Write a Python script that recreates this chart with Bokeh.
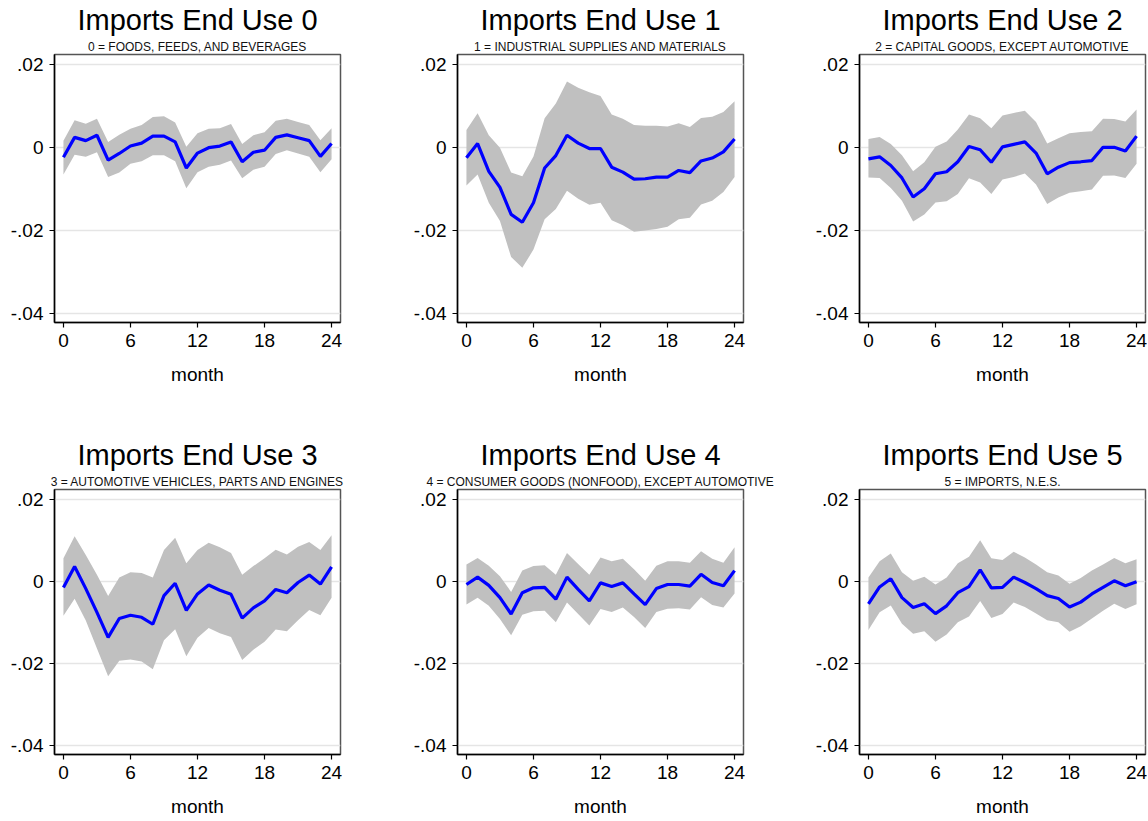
from bokeh.plotting import figure
from bokeh.layouts import row, column
from bokeh.models import Title, FixedTicker, Range1d
from bokeh.embed import file_html
from bokeh.resources import INLINE

months = list(range(25))

titles = ["Imports End Use 0", "Imports End Use 1", "Imports End Use 2",
          "Imports End Use 3", "Imports End Use 4", "Imports End Use 5"]
subtitles = ["0 = FOODS, FEEDS, AND BEVERAGES",
             "1 = INDUSTRIAL SUPPLIES AND MATERIALS",
             "2 = CAPITAL GOODS, EXCEPT AUTOMOTIVE",
             "3 = AUTOMOTIVE VEHICLES, PARTS AND ENGINES",
             "4 = CONSUMER GOODS (NONFOOD), EXCEPT AUTOMOTIVE",
             "5 = IMPORTS, N.E.S."]

y_ticks = [-0.04, -0.02, 0, 0.02]
y_tick_labels = ["-.04", "-.02", "0", ".02"]
x_ticks = [0, 6, 12, 18, 24]

# end use 0
coef0 = [-0.0023, 0.0025, 0.0017, 0.0030, -0.0030, -0.0014, 0.0004, 0.0011, 0.0028, 0.0028,
         0.0014, -0.0049, -0.0013, 0.0000, 0.0004, 0.0014, -0.0034, -0.0011, -0.0006, 0.0025,
         0.0031, 0.0024, 0.0017, -0.0021, 0.0010]
hi0 = [0.0017, 0.0066, 0.0058, 0.0070, 0.0014, 0.0031, 0.0046, 0.0055, 0.0074, 0.0076,
       0.0061, 0.0002, 0.0035, 0.0046, 0.0047, 0.0057, 0.0009, 0.0030, 0.0037, 0.0065,
       0.0070, 0.0062, 0.0055, 0.0018, 0.0047]
lo0 = [-0.0065, -0.0017, -0.0022, -0.0011, -0.0071, -0.0060, -0.0039, -0.0033, -0.0018, -0.0018,
       -0.0033, -0.0098, -0.0059, -0.0046, -0.0041, -0.0031, -0.0074, -0.0053, -0.0046, -0.0015,
       -0.0006, -0.0014, -0.0022, -0.0059, -0.0028]

# end use 1
coef1 = [-0.0024, 0.0010, -0.0057, -0.0096, -0.0161, -0.0180, -0.0133, -0.0049, -0.0019, 0.0030,
         0.0011, -0.0002, -0.0002, -0.0047, -0.0059, -0.0076, -0.0075, -0.0071, -0.0071, -0.0055,
         -0.0060, -0.0032, -0.0025, -0.0010, 0.0021]
hi1 = [0.0043, 0.0083, 0.0030, 0.0000, -0.0060, -0.0069, -0.0021, 0.0071, 0.0107, 0.0160,
       0.0145, 0.0134, 0.0125, 0.0080, 0.0070, 0.0055, 0.0053, 0.0053, 0.0051, 0.0059,
       0.0050, 0.0072, 0.0075, 0.0086, 0.0112]
lo1 = [-0.0091, -0.0065, -0.0133, -0.0177, -0.0264, -0.0290, -0.0246, -0.0173, -0.0148, -0.0104,
       -0.0123, -0.0138, -0.0133, -0.0175, -0.0187, -0.0203, -0.0200, -0.0196, -0.0191, -0.0173,
       -0.0169, -0.0137, -0.0128, -0.0107, -0.0071]

# end use 2
coef2 = [-0.0027, -0.0022, -0.0043, -0.0073, -0.0119, -0.0099, -0.0063, -0.0058, -0.0034, 0.0003,
         -0.0005, -0.0035, 0.0002, 0.0008, 0.0014, -0.0013, -0.0063, -0.0047, -0.0036, -0.0034,
         -0.0031, 0.0001, 0.0001, -0.0008, 0.0028]
hi2 = [0.0021, 0.0026, 0.0009, -0.0018, -0.0057, -0.0035, 0.0002, 0.0015, 0.0044, 0.0080,
       0.0071, 0.0047, 0.0078, 0.0084, 0.0089, 0.0062, 0.0010, 0.0023, 0.0035, 0.0038,
       0.0040, 0.0070, 0.0069, 0.0063, 0.0092]
lo2 = [-0.0072, -0.0073, -0.0097, -0.0128, -0.0178, -0.0161, -0.0132, -0.0129, -0.0112, -0.0074,
       -0.0084, -0.0112, -0.0077, -0.0071, -0.0062, -0.0089, -0.0136, -0.0120, -0.0109, -0.0105,
       -0.0101, -0.0068, -0.0067, -0.0073, -0.0039]

# end use 3
coef3 = [-0.0014, 0.0037, -0.0017, -0.0075, -0.0136, -0.0090, -0.0082, -0.0087, -0.0104, -0.0034,
         -0.0004, -0.0070, -0.0030, -0.0008, -0.0021, -0.0031, -0.0089, -0.0064, -0.0047, -0.0019,
         -0.0027, -0.0002, 0.0016, -0.0006, 0.0036]
hi3 = [0.0057, 0.0111, 0.0065, 0.0017, -0.0035, 0.0010, 0.0023, 0.0021, 0.0010, 0.0077,
       0.0107, 0.0045, 0.0077, 0.0095, 0.0084, 0.0070, 0.0017, 0.0038, 0.0057, 0.0078,
       0.0066, 0.0085, 0.0097, 0.0077, 0.0113]
lo3 = [-0.0083, -0.0042, -0.0095, -0.0163, -0.0231, -0.0193, -0.0190, -0.0195, -0.0214, -0.0143,
       -0.0116, -0.0182, -0.0137, -0.0113, -0.0126, -0.0135, -0.0191, -0.0166, -0.0147, -0.0117,
       -0.0121, -0.0094, -0.0069, -0.0082, -0.0039]

# end use 4
coef4 = [-0.0007, 0.0011, -0.0009, -0.0039, -0.0079, -0.0027, -0.0015, -0.0014, -0.0043, 0.0011,
         -0.0019, -0.0047, -0.0003, -0.0012, -0.0003, -0.0030, -0.0056, -0.0017, -0.0007, -0.0007,
         -0.0011, 0.0018, -0.0002, -0.0010, 0.0027]
hi4 = [0.0042, 0.0058, 0.0039, 0.0013, -0.0025, 0.0027, 0.0038, 0.0040, 0.0017, 0.0070,
       0.0043, 0.0017, 0.0059, 0.0050, 0.0056, 0.0030, 0.0002, 0.0039, 0.0050, 0.0050,
       0.0046, 0.0074, 0.0056, 0.0046, 0.0084]
lo4 = [-0.0056, -0.0039, -0.0059, -0.0091, -0.0131, -0.0081, -0.0072, -0.0071, -0.0099, -0.0051,
       -0.0079, -0.0107, -0.0067, -0.0074, -0.0063, -0.0086, -0.0113, -0.0074, -0.0066, -0.0065,
       -0.0068, -0.0038, -0.0057, -0.0063, -0.0029]

# end use 5
coef5 = [-0.0054, -0.0013, 0.0007, -0.0039, -0.0063, -0.0054, -0.0078, -0.0059, -0.0027, -0.0012,
         0.0029, -0.0015, -0.0014, 0.0011, -0.0002, -0.0017, -0.0034, -0.0041, -0.0062, -0.0050,
         -0.0030, -0.0014, 0.0002, -0.0010, 0.0000]
hi5 = [0.0010, 0.0050, 0.0069, 0.0023, 0.0002, 0.0012, -0.0007, 0.0010, 0.0045, 0.0061,
       0.0101, 0.0057, 0.0053, 0.0073, 0.0059, 0.0042, 0.0023, 0.0015, -0.0005, 0.0009,
       0.0027, 0.0042, 0.0058, 0.0045, 0.0055]
lo5 = [-0.0118, -0.0075, -0.0058, -0.0103, -0.0127, -0.0121, -0.0147, -0.0129, -0.0099, -0.0085,
       -0.0047, -0.0089, -0.0079, -0.0051, -0.0062, -0.0078, -0.0094, -0.0099, -0.0122, -0.0109,
       -0.0090, -0.0071, -0.0054, -0.0067, -0.0055]

FONT = "Liberation Sans"


def make_panel(i, coef, hi, lo, width, height, border_right, border_bottom):
    p = figure(width=width, height=height, output_backend="svg", toolbar_location=None,
               x_range=Range1d(-0.8, 24.8), y_range=Range1d(-0.0422, 0.0225),
               min_border_left=54, min_border_right=border_right,
               min_border_top=53, min_border_bottom=border_bottom,
               x_axis_label="month")

    # subtitle first so it sits closest to the frame, then the big title
    p.add_layout(Title(text=subtitles[i], align="center", text_font=FONT,
                       text_font_size="12px", text_font_style="normal",
                       text_color="#111111", standoff=2), "above")
    p.add_layout(Title(text=titles[i], align="center", text_font=FONT,
                       text_font_size="29px", text_font_style="normal",
                       text_color="black", standoff=2), "above")

    p.varea(x=months, y1=lo, y2=hi, fill_color="#c0c0c0")
    p.line(months, coef, line_color="#0000ff", line_width=3.2)

    p.xgrid.visible = False
    p.ygrid.ticker = FixedTicker(ticks=y_ticks)
    p.ygrid.grid_line_color = "#e5e5e5"
    p.ygrid.grid_line_width = 1.5

    p.xaxis.ticker = FixedTicker(ticks=x_ticks)
    p.yaxis.ticker = FixedTicker(ticks=y_ticks)
    p.yaxis.major_label_overrides = dict(zip(y_ticks, y_tick_labels))
    for ax in (p.xaxis, p.yaxis):
        ax.minor_tick_line_color = None
        ax.major_tick_in = 0
        ax.major_tick_out = 5
        ax.major_tick_line_color = "black"
        ax.major_tick_line_width = 1.2
        ax.axis_line_color = "black"
        ax.axis_line_width = 1.5
        ax.major_label_text_font = FONT
        ax.major_label_text_font_size = "19px"
        ax.major_label_text_color = "black"
    p.xaxis.major_label_standoff = 6
    p.yaxis.major_label_standoff = 6
    p.xaxis.axis_label_text_font = FONT
    p.xaxis.axis_label_text_font_size = "19px"
    p.xaxis.axis_label_text_font_style = "normal"
    p.xaxis.axis_label_text_color = "black"
    p.xaxis.axis_label_standoff = 14

    p.outline_line_color = "#555555"
    p.outline_line_width = 1.5
    p.background_fill_color = "white"
    p.border_fill_color = "white"
    return p


data = [(coef0, hi0, lo0), (coef1, hi1, lo1), (coef2, hi2, lo2),
        (coef3, hi3, lo3), (coef4, hi4, lo4), (coef5, hi5, lo5)]

widths = [403, 402, 342]
rights = [63, 62, 2]
heights = [435, 384]
bottoms = [113, 62]

panels = []
for i, (c, h, l) in enumerate(data):
    r, k = divmod(i, 3)
    panels.append(make_panel(i, c, h, l, widths[k], heights[r], rights[k], bottoms[r]))

layout = column(row(*panels[:3]), row(*panels[3:]))

open("out.html", "w").write(file_html(layout, INLINE))
